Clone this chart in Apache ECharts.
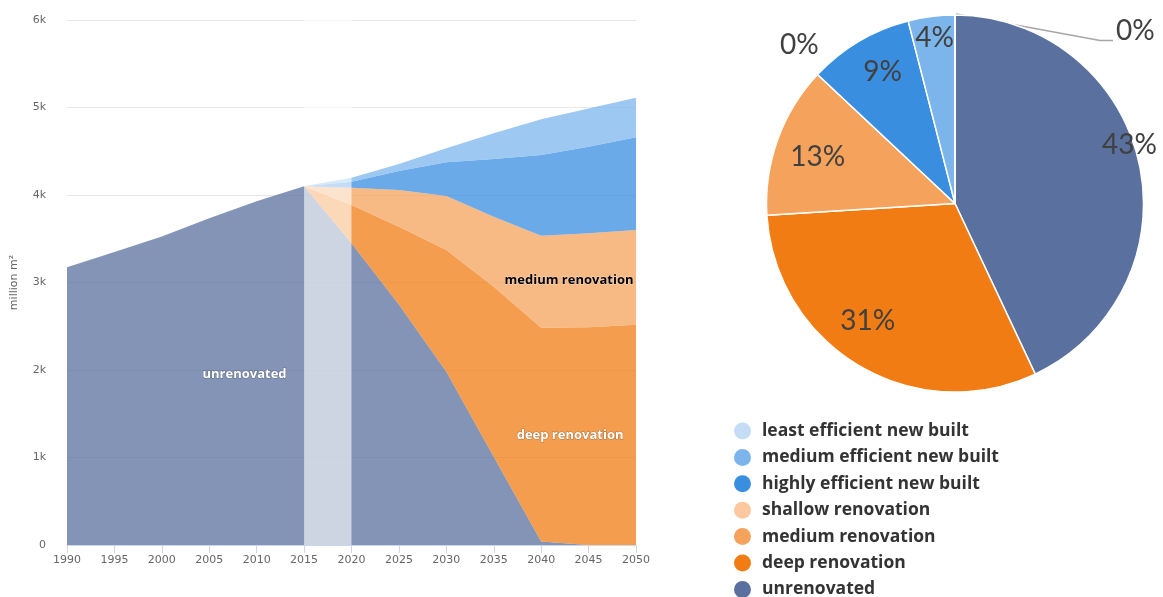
<!DOCTYPE html>
<html>
<head>
<meta charset="utf-8">
<title>Building floor area by renovation state</title>
<script src="https://cdn.jsdelivr.net/npm/echarts@6/dist/echarts.min.js"></script>
<style>
  html, body { margin: 0; padding: 0; background: #ffffff; }
  #chart { width: 1163px; height: 597px; }
</style>
</head>
<body>
<div id="chart"></div>
<script>
// ---- Floor area stock, million m² (stacked from the bottom up) ----
const years = ['1990', '1995', '2000', '2005', '2010', '2015', '2020', '2025', '2030', '2035', '2040', '2045', '2050'];
const unrenovated       = [3175, 3350, 3525, 3735, 3930, 4100, 3450, 2750, 1980, 1010, 40, 0, 0];
const deepRenovation    = [0, 0, 0, 0, 0, 0, 436, 888, 1391, 1942, 2444, 2488, 2518];
const mediumRenovation  = [0, 0, 0, 0, 0, 0, 197, 419, 618, 800, 1051, 1074, 1082];
const shallowRenovation = [0, 0, 0, 0, 0, 0, 0, 0, 0, 0, 0, 0, 0];
const highlyEfficient   = [0, 0, 0, 0, 0, 0, 69, 217, 385, 659, 922, 990, 1059];
const mediumEfficient   = [0, 0, 0, 0, 0, 0, 45, 80, 159, 294, 408, 438, 453];
const leastEfficient    = [0, 0, 0, 0, 0, 0, 0, 0, 0, 0, 0, 0, 0];
const yTickLabels = ['0', '1k', '2k', '3k', '4k', '5k', '6k'];

// ---- Share of floor area, % ----
const shareNames  = ['unrenovated', 'deep renovation', 'medium renovation', 'shallow renovation',
                     'highly efficient new built', 'medium efficient new built', 'least efficient new built'];
const shareValues = [43, 31, 13, 0, 9, 4, 0];

// ---- Series names and colours ----
const legendNames = ['least efficient new built', 'medium efficient new built', 'highly efficient new built',
                     'shallow renovation', 'medium renovation', 'deep renovation', 'unrenovated'];
const palette = {
  'least efficient new built':  '#c4ddf5',
  'medium efficient new built': '#7cb5ec',
  'highly efficient new built': '#3a8ee0',
  'shallow renovation':         '#fcc8a0',
  'medium renovation':          '#f5a35c',
  'deep renovation':            '#f27c14',
  'unrenovated':                '#5a709e'
};

// stack order, bottom first
const stackSeries = [
  ['unrenovated', unrenovated],
  ['deep renovation', deepRenovation],
  ['medium renovation', mediumRenovation],
  ['shallow renovation', shallowRenovation],
  ['highly efficient new built', highlyEfficient],
  ['medium efficient new built', mediumEfficient],
  ['least efficient new built', leastEfficient]
];

// in-area series captions: [category, y value, colour, gap to anchor]
const areaCaptions = {
  'unrenovated':       ['2015', 1954, '#ffffff', 17],
  'medium renovation': ['2050', 3029, '#000000', 2],
  'deep renovation':   ['2050', 1257, '#ffffff', 12]
};

const axisFont = 'DejaVu Sans';
const boldFont = 'Open Sans';

const areaSeries = stackSeries.map(function (s) {
  const name = s[0];
  const cap = areaCaptions[name];
  const series = {
    name: name,
    type: 'line',
    stack: 'floor',
    data: s[1],
    color: palette[name],
    showSymbol: false,
    symbol: 'none',
    lineStyle: { width: 0, opacity: 0 },
    areaStyle: { opacity: 0.75 },
    emphasis: { disabled: true },
    silent: true
  };
  if (cap) {
    const dark = cap[2] === '#000000';
    series.markPoint = {
      silent: true,
      symbol: 'circle',
      symbolSize: 1,
      itemStyle: { color: 'rgba(0,0,0,0)' },
      label: {
        show: true,
        position: 'left',
        distance: cap[3],
        formatter: name,
        color: cap[2],
        fontFamily: boldFont,
        fontWeight: 'bold',
        fontSize: 13,
        textBorderColor: dark ? 'rgba(255,255,255,0.45)' : 'rgba(40,40,40,0.35)',
        textBorderWidth: 1
      },
      data: [{ coord: [cap[0], cap[1]] }]
    };
  }
  return series;
});

// light band over the base-year-to-projection transition
const bandSeries = {
  name: 'transition',
  type: 'line',
  data: [],
  silent: true,
  z: 10,
  markArea: {
    silent: true,
    z: 10,
    itemStyle: { color: '#ffffff', opacity: 0.6 },
    data: [[{ xAxis: '2015' }, { xAxis: '2020' }]]
  }
};

// ---- pie label placement ----
const pieCenter = [955, 203.5];
const pieRadius = 188.5;
const labelRadius = 146;
const labelNudge = {
  'unrenovated': [32, -27],
  'deep renovation': [-13, -8],
  'medium renovation': [0, 3],
  'highly efficient new built': [2, -6],
  'medium efficient new built': [-2, -21]
};
const shareTotal = shareValues.reduce(function (a, b) { return a + b; }, 0);
function sliceMidAngle(i) {
  let before = 0;
  for (let k = 0; k < i; k++) before += shareValues[k];
  return (before + shareValues[i] / 2) / shareTotal * Math.PI * 2;
}

const pieSeries = {
  name: 'share',
  type: 'pie',
  center: pieCenter,
  radius: pieRadius,
  startAngle: 90,
  clockwise: true,
  avoidLabelOverlap: false,
  silent: true,
  emphasis: { disabled: true },
  itemStyle: { borderColor: '#ffffff', borderWidth: 1.5 },
  label: {
    show: true,
    position: 'inside',
    formatter: function (p) { return shareValues[p.dataIndex] + '%'; },
    fontFamily: 'Lato',
    fontSize: 28,
    color: '#404040'
  },
  labelLine: { show: false },
  labelLayout: function (p) {
    const i = p.dataIndex;
    const name = shareNames[i];
    const a = sliceMidAngle(i);
    const ux = Math.sin(a), uy = -Math.cos(a);
    if (shareValues[i] > 0) {
      const n = labelNudge[name] || [0, 0];
      return {
        x: pieCenter[0] + ux * labelRadius + n[0],
        y: pieCenter[1] + uy * labelRadius + n[1],
        align: 'center',
        verticalAlign: 'middle'
      };
    }
    const ex = pieCenter[0] + ux * pieRadius;
    const ey = pieCenter[1] + uy * pieRadius;
    if (name === 'least efficient new built') {
      return {
        x: ex + 161, y: ey + 16, align: 'left', verticalAlign: 'middle',
        labelLinePoints: [[ex + 1, ey - 1], [ex + 145, ey + 25.5], [ex + 158, ey + 25.5]]
      };
    }
    return { x: ex + 1, y: ey - 29, align: 'right', verticalAlign: 'middle' };
  },
  data: shareNames.map(function (n, i) {
    const item = { name: n, value: shareValues[i], itemStyle: { color: palette[n] } };
    if (shareValues[i] === 0) {
      item.label = { position: 'outside' };
      item.labelLine = {
        show: n === 'least efficient new built',
        length: 10, length2: 10,
        lineStyle: { color: '#a6a6a6', width: 1.5 }
      };
    }
    return item;
  })
};

const chart = echarts.init(document.getElementById('chart'), null, { renderer: 'canvas' });
chart.setOption({
  animation: false,
  backgroundColor: '#ffffff',
  grid: { left: 67, right: 527, top: 20, bottom: 52, containLabel: false },
  xAxis: {
    type: 'category',
    data: years,
    boundaryGap: false,
    axisLine: { lineStyle: { color: '#ccd6eb', width: 1 } },
    axisTick: { length: 8, lineStyle: { color: '#ccd6eb' } },
    axisLabel: { color: '#666666', fontSize: 11, margin: 10, fontFamily: axisFont },
    splitLine: { show: false }
  },
  yAxis: {
    type: 'value',
    min: 0,
    max: 6000,
    interval: 1000,
    name: 'million m²',
    nameLocation: 'middle',
    nameRotate: 90,
    nameGap: 47,
    nameTextStyle: { color: '#666666', fontSize: 11, fontFamily: axisFont },
    axisLine: { show: false },
    axisTick: { show: false },
    axisLabel: {
      color: '#666666', fontSize: 11, margin: 21, fontFamily: axisFont,
      formatter: function (v) { return yTickLabels[Math.round(v / 1000)]; }
    },
    splitLine: { lineStyle: { color: '#e6e6e6', width: 1 } }
  },
  legend: {
    data: legendNames,
    orient: 'vertical',
    left: 734,
    top: 422,
    height: 190,
    padding: 0,
    icon: 'circle',
    itemWidth: 29,
    itemHeight: 17,
    itemGap: 8.4,
    selectedMode: false,
    itemStyle: { borderWidth: 0 },
    textStyle: { fontFamily: boldFont, fontWeight: 'bold', fontSize: 17.5, color: '#333333', lineHeight: 16 }
  },
  series: areaSeries.concat([bandSeries, pieSeries])
});
</script>
</body>
</html>
